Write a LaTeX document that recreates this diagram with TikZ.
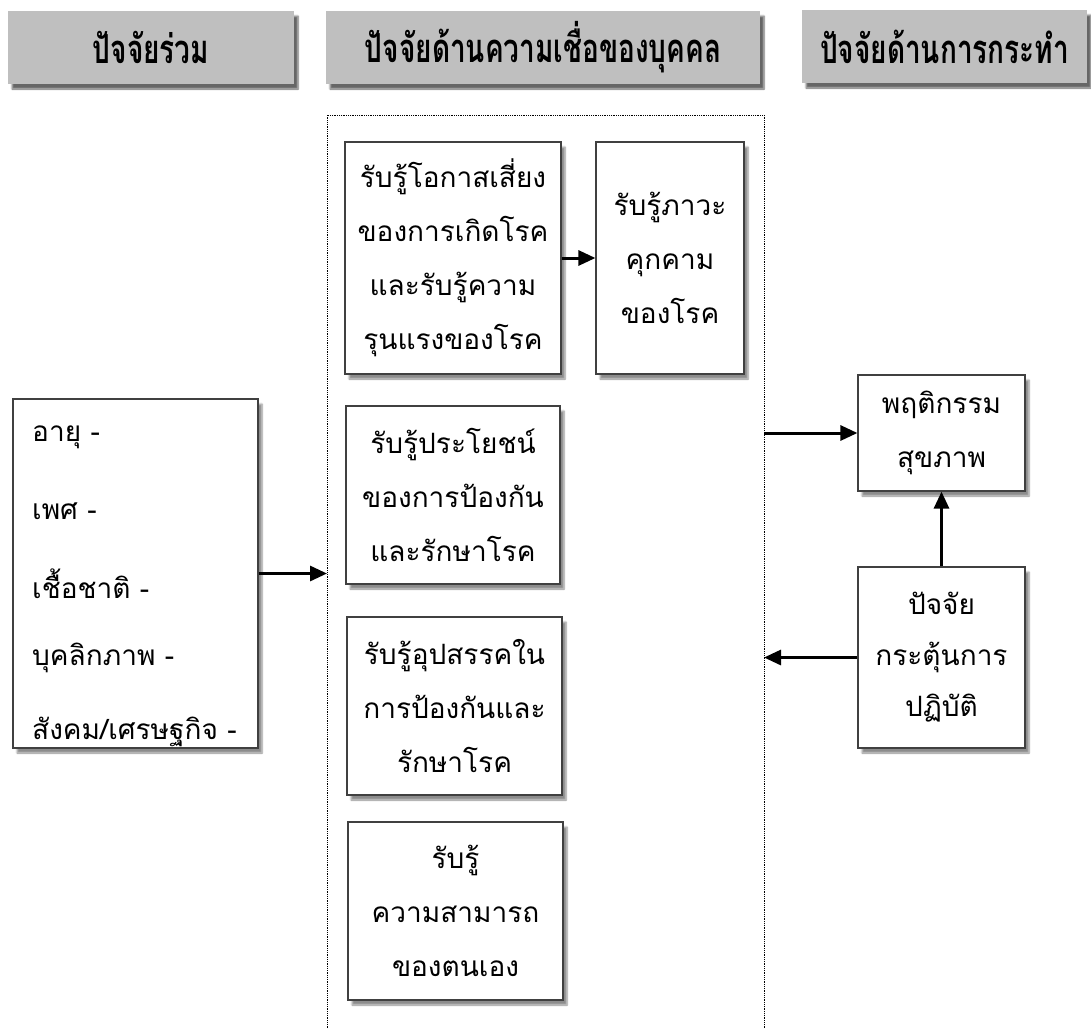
\documentclass[tikz,border=0pt]{standalone}
\usepackage{fontspec}
\newfontfamily\thaifont[Script=Thai]{Loma}
\newfontfamily\hdrfont[Script=Thai,FakeStretch=0.7]{Loma}
\usetikzlibrary{arrows.meta,shadows.blur}

\begin{document}
\begin{tikzpicture}[x=1pt,y=-1pt,>={Triangle[length=17pt,width=15pt]},
  hdr/.style={fill=gray!50,minimum height=73pt,inner sep=0pt,
    font=\hdrfont\bfseries\fontsize{40}{44}\selectfont,
    blur shadow={shadow xshift=4pt,shadow yshift=-5pt,shadow blur steps=6,shadow opacity=60}},
  box/.style={draw=black!75,line width=1.2pt,fill=white,inner sep=0pt,align=center,
    font=\thaifont\fontsize{28}{54}\selectfont,
    blur shadow={shadow xshift=4pt,shadow yshift=-5pt,shadow blur steps=6,shadow opacity=45}},
  item/.style={anchor=west,inner sep=0pt,font=\thaifont\fontsize{28}{54}\selectfont},
  arr/.style={->,line width=3pt}]
\useasboundingbox (0,0) rectangle (1091,1028);
\node[hdr,minimum width=286pt] (common) at (151,47.5) {ปัจจัยร่วม};
\node[hdr,minimum width=434pt] (belief) at (543,47.5) {ปัจจัยด้านความเชื่อของบุคคล};
\node[hdr,minimum width=285pt] (action) at (944.5,46.5) {ปัจจัยด้านการกระทำ};
\draw[densely dotted,line width=0.8pt] (327,1030) coordinate (fl) -- (327,115) -- (764,115) -- (764,1030) coordinate (fr);
\coordinate (inl) at (327,573.5);
\coordinate (outr) at (764,433);
\coordinate (inr) at (764,657.5);
\node[box,minimum width=216pt,minimum height=232pt] (risk) at (453,258) {รับรู้โอกาสเสี่ยง\\ของการเกิดโรค\\และรับรู้ความ\\รุนแรงของโรค};
\node[box,minimum width=148pt,minimum height=232pt] (threat) at (670,258) {รับรู้ภาวะ\\คุกคาม\\ของโรค};
\node[box,minimum width=214pt,minimum height=178pt] (benefit) at (453,495) {รับรู้ประโยชน์\\ของการป้องกัน\\และรักษาโรค};
\node[box,minimum width=215pt,minimum height=178pt] (barrier) at (454.5,706) {รับรู้อุปสรรคใน\\การป้องกันและ\\รักษาโรค};
\node[box,minimum width=215pt,minimum height=178pt] (efficacy) at (455.5,911) {รับรู้\\ความสามารถ\\ของตนเอง};
\node[box,minimum width=245pt,minimum height=349pt] (modify) at (135.5,573.5) {};
\begin{scope}
\clip (modify.south west) rectangle (modify.north east);
\node[item] (age) at (32,437) {อายุ -};
\node[item] (sex) at (32,511) {เพศ -};
\node[item] (race) at (32,584) {เชื้อชาติ -};
\node[item] (person) at (32,658) {บุคลิกภาพ -};
\node[item] (social) at (32,732) {สังคม/เศรษฐกิจ -};
\end{scope}
\node[box,minimum width=167pt,minimum height=116pt] (behav) at (941.5,433) {พฤติกรรม\\สุขภาพ};
\node[box,minimum width=167pt,minimum height=181pt,font=\thaifont\fontsize{28}{51}\selectfont] (cue) at (941.5,657.5) {ปัจจัย\\กระตุ้นการ\\ปฏิบัติ};
\draw[arr] (risk) -- (threat);
\draw[arr] (modify) -- (inl);
\draw[arr] (outr) -- (behav);
\draw[arr] (cue) -- (behav);
\draw[arr] (cue) -- (inr);
\end{tikzpicture}
\end{document}
